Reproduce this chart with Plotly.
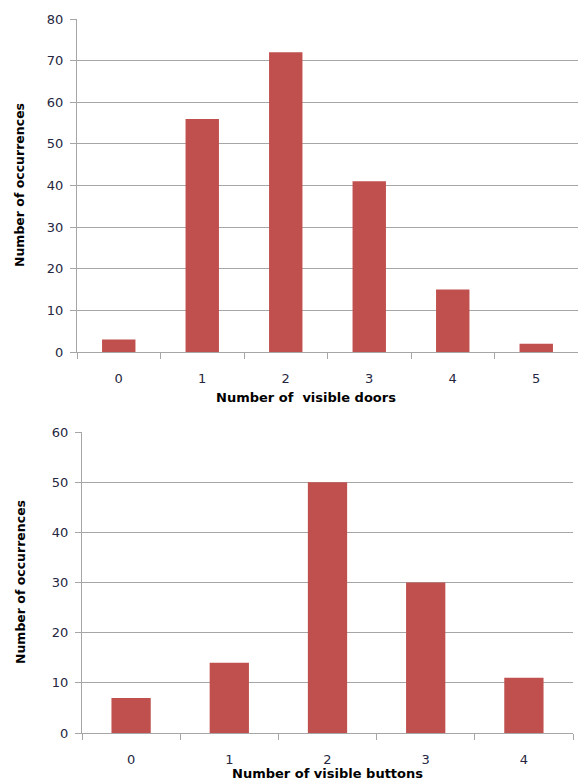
import plotly.graph_objects as go

# Counts per category
door_counts = ["0", "1", "2", "3", "4", "5"]
door_occurrences = [3, 56, 72, 41, 15, 2]

button_counts = ["0", "1", "2", "3", "4"]
button_occurrences = [7, 14, 50, 30, 11]

W, H = 578, 781
BAR = "#C0504D"
GRID = "#A6A6A6"
TXT = "#262640"
FONT = "DejaVu Sans"


def fx(px):
    return px / W


def fy(py):
    return (H - py) / H


fig = go.Figure()
fig.add_trace(go.Bar(x=door_counts, y=door_occurrences, marker_color=BAR,
                     marker_line_width=0, xaxis="x", yaxis="y"))
fig.add_trace(go.Bar(x=button_counts, y=button_occurrences, marker_color=BAR,
                     marker_line_width=0, xaxis="x2", yaxis="y2"))

common_x = dict(type="category", showline=True, linecolor=GRID, linewidth=1,
                ticks="outside", tickson="boundaries", ticklen=6, tickcolor=GRID,
                showgrid=False, tickfont=dict(family=FONT, size=13, color=TXT),
                ticklabelstandoff=14, automargin=False)
common_y = dict(showline=True, linecolor=GRID, linewidth=1, ticks="outside",
                ticklen=6, tickcolor=GRID, showgrid=True, gridcolor=GRID,
                gridwidth=1, zeroline=False, dtick=10,
                tickfont=dict(family=FONT, size=13, color=TXT),
                ticklabelstandoff=4, automargin=False)

fig.update_layout(
    width=W, height=H,
    margin=dict(l=0, r=0, t=0, b=0, autoexpand=False),
    paper_bgcolor="white", plot_bgcolor="white", showlegend=False,
    bargap=0.6,
    xaxis=dict(domain=[fx(77), 1.0], anchor="y", **common_x),
    yaxis=dict(domain=[fy(352), fy(19)], range=[0, 80], anchor="x", **common_y),
    xaxis2=dict(domain=[fx(82), fx(573)], anchor="y2", **common_x),
    yaxis2=dict(domain=[fy(733), fy(432)], range=[0, 60], anchor="x2", **common_y),
)

title_font_y = dict(family=FONT, size=12.5, color="black")
title_font_x = dict(family=FONT, size=13, color="black")
annotations = [
    dict(text="<b>Number of occurrences</b>", x=fx(20), y=fy(185), textangle=-90,
         font=title_font_y),
    dict(text="<b>Number of occurrences</b>", x=fx(20), y=fy(582), textangle=-90,
         font=title_font_y),
    dict(text="<b>Number of  visible doors</b>", x=fx(306), y=fy(397),
         font=title_font_x),
    dict(text="<b>Number of visible buttons</b>", x=fx(327), y=fy(773),
         font=title_font_x),
]
for a in annotations:
    a.update(xref="paper", yref="paper", showarrow=False,
             xanchor="center", yanchor="middle")
fig.update_layout(annotations=annotations)

fig.write_html("out.html")
